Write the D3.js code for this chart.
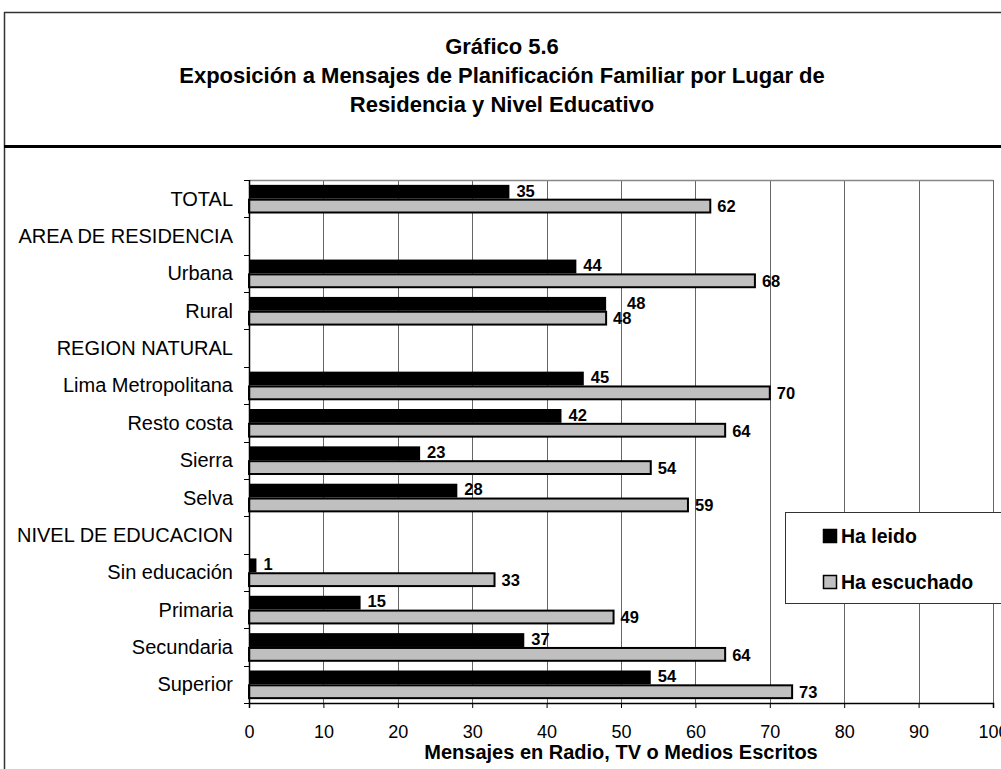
<!DOCTYPE html>
<html><head><meta charset="utf-8">
<script src="https://cdn.jsdelivr.net/npm/d3@7"></script>
<style>body{margin:0;background:#fff}svg{display:block}text{font-family:"Liberation Sans",Arial,sans-serif}</style>
</head><body>
<svg id="c" width="1001" height="769"></svg>
<script>
const categories = ["TOTAL","AREA DE RESIDENCIA","Urbana","Rural","REGION NATURAL","Lima Metropolitana","Resto costa","Sierra","Selva","NIVEL DE EDUCACION","Sin educación","Primaria","Secundaria","Superior"];
const haLeido     = [35,null,44,48,null,45,42,23,28,null,1,15,37,54];
const haEscuchado = [62,null,68,48,null,70,64,54,59,null,33,49,64,73];
const xTicks = [0,10,20,30,40,50,60,70,80,90,100];
const titleLines = ["Gráfico 5.6","Exposición a Mensajes de Planificación Familiar por Lugar de","Residencia y Nivel Educativo"];
const xTitle = "Mensajes en Radio, TV o Medios Escritos";
const seriesNames = ["Ha leido","Ha escuchado"];

const svg = d3.select("#c");
// outer frame
svg.append("line").attr("x1",4.5).attr("x2",4.5).attr("y1",12).attr("y2",769).attr("stroke","#333").attr("stroke-width",1.5);
svg.append("line").attr("x1",4).attr("x2",1001).attr("y1",12.5).attr("y2",12.5).attr("stroke","#333").attr("stroke-width",1.5);
svg.append("line").attr("x1",4).attr("x2",1001).attr("y1",146.5).attr("y2",146.5).attr("stroke","#000").attr("stroke-width",3);

// title
titleLines.forEach((t,i)=>{
  svg.append("text").attr("x",502).attr("y",54+i*29).attr("text-anchor","middle")
    .attr("font-size",22).attr("font-weight","bold").text(t);
});

const x = d3.scaleLinear().domain([0,100]).range([249,993]);
const y = d3.scaleBand().domain(categories).range([180,703]).padding(0);
const bw = y.bandwidth();

// grid
svg.append("g").selectAll("line").data(xTicks.slice(1)).join("line")
  .attr("x1",d=>Math.round(x(d))+0.5).attr("x2",d=>Math.round(x(d))+0.5)
  .attr("y1",180).attr("y2",703).attr("stroke","#666").attr("stroke-width",1);
svg.append("line").attr("x1",249).attr("x2",993).attr("y1",180.5).attr("y2",180.5).attr("stroke","#888").attr("stroke-width",1.5);

// bars
const rows = categories.map((c,i)=>({c,a:haLeido[i],b:haEscuchado[i]}));
const pad = bw*0.13, bh = bw*0.37;
const g = svg.append("g");
rows.forEach(r=>{
  const y0 = y(r.c);
  if(r.a!=null){
    g.append("rect").attr("x",x(0)).attr("y",y0+pad).attr("width",x(r.a)-x(0)).attr("height",bh).attr("fill","#000");
  }
  if(r.b!=null){
    g.append("rect").attr("x",x(0)).attr("y",y0+pad+bh+1).attr("width",x(r.b)-x(0)).attr("height",bh-1)
      .attr("fill","#c0c0c0").attr("stroke","#000").attr("stroke-width",2);
  }
});
// labels
rows.forEach(r=>{
  const y0 = y(r.c);
  if(r.a!=null){
    const shift = (r.b!=null && Math.abs(r.a-r.b)<3) ? 14 : 0;
    g.append("text").attr("x",x(r.a)+7+shift).attr("y",y0+pad+bh/2-1).attr("dy","0.35em")
      .attr("font-size",16.5).attr("font-weight","bold").text(r.a);
  }
  if(r.b!=null){
    g.append("text").attr("x",x(r.b)+7).attr("y",y0+pad+bh*1.5+1).attr("dy","0.35em")
      .attr("font-size",16.5).attr("font-weight","bold").text(r.b);
  }
});

// y axis
const ya = svg.append("g");
ya.append("line").attr("x1",249.5).attr("x2",249.5).attr("y1",180).attr("y2",703).attr("stroke","#000").attr("stroke-width",1.5);
const bounds = categories.map(c=>y(c)).concat([703]);
ya.selectAll("line.t").data(bounds).join("line").attr("class","t")
  .attr("x1",244).attr("x2",249).attr("y1",d=>Math.round(d)+0.5).attr("y2",d=>Math.round(d)+0.5).attr("stroke","#000");
ya.selectAll("text").data(categories).join("text")
  .attr("x",233).attr("y",d=>y(d)+bw/2).attr("dy","0.35em").attr("text-anchor","end")
  .attr("font-size",20).text(d=>d);

// x axis
const xa = svg.append("g").attr("transform","translate(0,703)")
  .call(d3.axisBottom(x).tickValues(xTicks).tickSize(5).tickFormat(d3.format("d")));
xa.select(".domain").attr("stroke","#000").attr("stroke-width",1.5);
xa.selectAll("text").attr("font-size",18).attr("font-family","'Liberation Sans',Arial,sans-serif").attr("dy","1.5em").attr("fill","#000");
svg.append("text").attr("x",621).attr("y",759).attr("text-anchor","middle").attr("font-size",20).attr("font-weight","bold").text(xTitle);

// legend
const lg = svg.append("g");
lg.append("rect").attr("x",785.5).attr("y",512.5).attr("width",230).attr("height",91).attr("fill","#fff").attr("stroke","#333");
const lc = ["#000","#c0c0c0"];
seriesNames.forEach((n,i)=>{
  const yy = 536 + i*46;
  lg.append("rect").attr("x",823.5).attr("y",yy-6.5).attr("width",13).attr("height",13)
    .attr("fill",lc[i]).attr("stroke","#000").attr("stroke-width",1.5);
  lg.append("text").attr("x",841).attr("y",yy).attr("dy","0.35em").attr("font-size",19.5).attr("font-weight","bold").text(n);
});
</script>
</body></html>
